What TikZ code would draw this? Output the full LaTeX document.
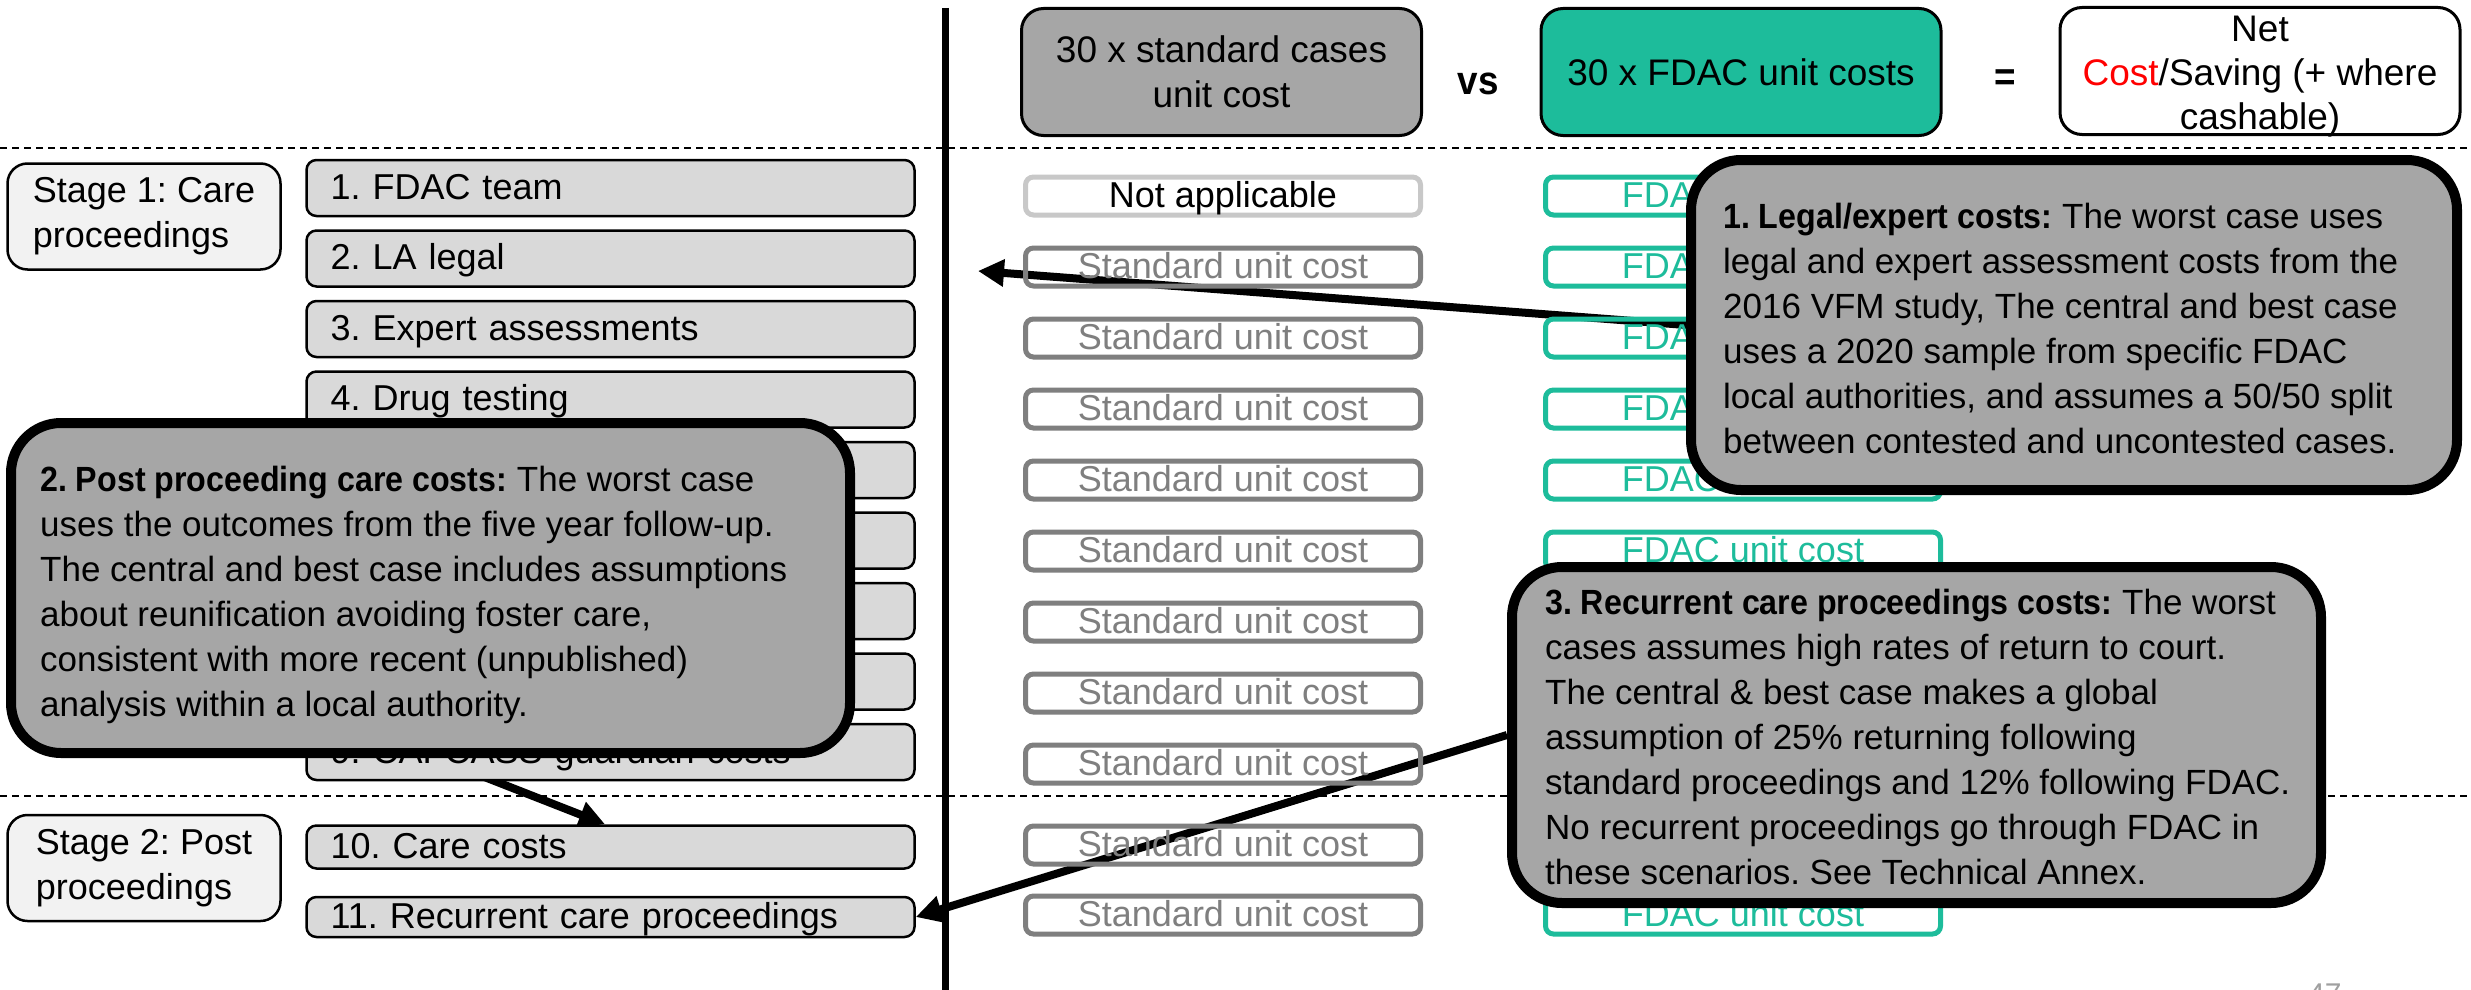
\documentclass[tikz,border=0pt]{standalone}
\usepackage{fontspec}
\setmainfont[BoldFeatures={FakeStretch=0.92}]{Liberation Sans}
\usetikzlibrary{arrows.meta}
\pgfdeclarelayer{bg}
\pgfdeclarelayer{mid}
\pgfsetlayers{bg,mid,main}
\definecolor{tealc}{RGB}{29,188,155}
\definecolor{calloutfill}{RGB}{166,166,166}
\definecolor{rowfill}{RGB}{217,217,217}
\definecolor{stagefill}{RGB}{242,242,242}
\definecolor{stdgray}{RGB}{127,127,127}
\definecolor{nagray}{RGB}{200,200,200}
\definecolor{pagegray}{RGB}{160,160,160}
\frenchspacing
\begin{document}
\begin{tikzpicture}[x=1pt,y=-1pt,
  txt/.style={font=\fontsize{36}{45}\selectfont},
  rowbox/.style={txt,draw=black,line width=2.5pt,fill=rowfill,rounded corners=10pt,
    text width=560pt,align=left,inner xsep=24pt,inner ysep=0pt,
    text height=28pt,text depth=6pt},
  stagebox/.style={txt,draw=black,line width=2.5pt,fill=stagefill,rounded corners=20pt,
    minimum width=273pt,minimum height=106pt,align=left,inner sep=0pt},
  stdbox/.style={txt,draw=stdgray,text=stdgray,line width=5pt,rounded corners=8pt,
    minimum width=395pt,minimum height=38pt,inner sep=0pt,text height=27pt,text depth=5pt},
  nabox/.style={stdbox,draw=nagray,text=black},
  fdacbox/.style={stdbox,draw=tealc,text=tealc},
  hdr/.style={font=\fontsize{37}{45}\selectfont,draw=black,line width=3pt,rounded corners=22pt,
    minimum width=400pt,minimum height=127pt,align=center,inner sep=0pt},
  hdrtext/.style={font=\fontsize{37}{44}\selectfont,align=center,inner sep=0pt},
  op/.style={font=\fontsize{40}{45}\selectfont\bfseries,inner sep=0pt},
  callbox/.style={draw=black,line width=10pt,fill=calloutfill,rounded corners=50pt,inner sep=0pt},
  calltext/.style={font=\fontsize{35}{45}\selectfont,align=left,inner sep=0pt},
  arr/.style={line width=8pt,-{Triangle[length=26pt,width=26pt]}},
  dashln/.style={line width=2pt,dash pattern=on 7pt off 5pt}
]
\useasboundingbox (0,0) rectangle (2471,990);
\begin{pgfonlayer}{bg}
  \fill[white] (0,0) rectangle (2471,990);
  \draw[dashln] (0,148) -- (2471,148);
  \draw[dashln] (0,796) -- (2471,796);
  \draw[line width=7pt] (945,8) -- (945,995);
\end{pgfonlayer}

% header
\node[hdr,fill=calloutfill] (h1) at (1221.5,72) {30 x standard cases\\unit cost};
\node[op] (vs) at (1478,84) {vs};
\node[hdr,fill=tealc] (h2) at (1741,72) {30 x FDAC unit costs};
\node[op] (eq) at (2005,80) {=};
\node[hdr,fill=white] (h3) at (2260,71) {};
\node[hdrtext] (h3t) at (2260,77) {Net\\\textcolor{red}{Cost}/Saving (+ where\\cashable)};

% stages
\node[stagebox] (st1) at (144,216.5) {Stage 1: Care\\proceedings};
\node[stagebox] (st2) at (144,868) {Stage 2: Post\\proceedings};

% left rows
\node[rowbox,minimum height=56pt] (r1) at (610.5,188) {1. FDAC team};
\node[rowbox,minimum height=56pt] (r2) at (610.5,258.5) {2. LA legal};
\node[rowbox,minimum height=56pt] (r3) at (610.5,329) {3. Expert assessments};
\node[rowbox,minimum height=56pt] (r4) at (610.5,399.5) {4. Drug testing};
\node[rowbox,minimum height=56pt] (r5) at (610.5,470) {};
\node[rowbox,minimum height=56pt] (r6) at (610.5,540.5) {};
\node[rowbox,minimum height=56pt] (r7) at (610.5,611) {};
\node[rowbox,minimum height=56pt] (r8) at (610.5,681.5) {};
\node[rowbox,minimum height=56pt] (r9) at (610.5,752) {9. CAFCASS guardian costs};
\node[rowbox,minimum height=43pt] (r10) at (610.5,847) {10. Care costs};
\node[rowbox,minimum height=40pt] (r11) at (610.5,917) {11. Recurrent care proceedings};

% standard column
\node[nabox] (s1) at (1223,196) {Not applicable};
\foreach \i/\y in {2/267,3/338,4/409,5/480,6/551,7/622,8/693,9/764,10/845,11/915}
  \node[stdbox] (s\i) at (1223,\y) {Standard unit cost};

% FDAC column
\foreach \i/\y in {1/196,2/267,3/338,4/409,5/480,6/551,7/622,8/693,9/764,10/845,11/915}
  \node[fdacbox] (f\i) at (1743,\y) {FDAC unit cost};

% page number
\node[font=\fontsize{30}{36}\selectfont,text=pagegray,anchor=north west,inner sep=0pt] (pg) at (2308,984) {47};

% callouts
\node[callbox,minimum width=766pt,minimum height=330pt] (c1) at (2074,325) {};
\node[calltext,anchor=north west] (c1t) at (1723,203) {\textbf{1. Legal/expert costs:} The worst case uses\\legal and expert assessment costs from the\\2016 VFM study, The central and best case\\uses a 2020 sample from specific FDAC\\local authorities, and assumes a 50/50 split\\between contested and uncontested cases.};

\node[callbox,minimum width=839pt,minimum height=330pt] (c2) at (430.5,588) {};
\node[calltext,anchor=north west] (c2t) at (40,466) {\textbf{2. Post proceeding care costs:} The worst case\\uses the outcomes from the five year follow-up.\\The central and best case includes assumptions\\about reunification avoiding foster care,\\consistent with more recent (unpublished)\\analysis within a local authority.};

\node[callbox,minimum width=809pt,minimum height=336pt] (c3) at (1916.5,735) {};
\node[calltext,anchor=north west] (c3t) at (1545,589) {\textbf{3. Recurrent care proceedings costs:} The worst\\cases assumes high rates of return to court.\\The central \& best case makes a global\\assumption of 25\% returning following\\standard proceedings and 12\% following FDAC.\\No recurrent proceedings go through FDAC in\\these scenarios. See Technical Annex.};

% arrows
\coordinate (a1e) at (978,271);
\coordinate (a2s) at (293,702);
\coordinate (a2e) at (605,0 |- r10.north);
\begin{pgfonlayer}{mid}
  \draw[arr] (c1.west) -- (a1e);
  \draw[arr] (a2s) -- (a2e);
  \draw[arr] (c3.west) -- (r11.east);
\end{pgfonlayer}
\end{tikzpicture}
\end{document}
